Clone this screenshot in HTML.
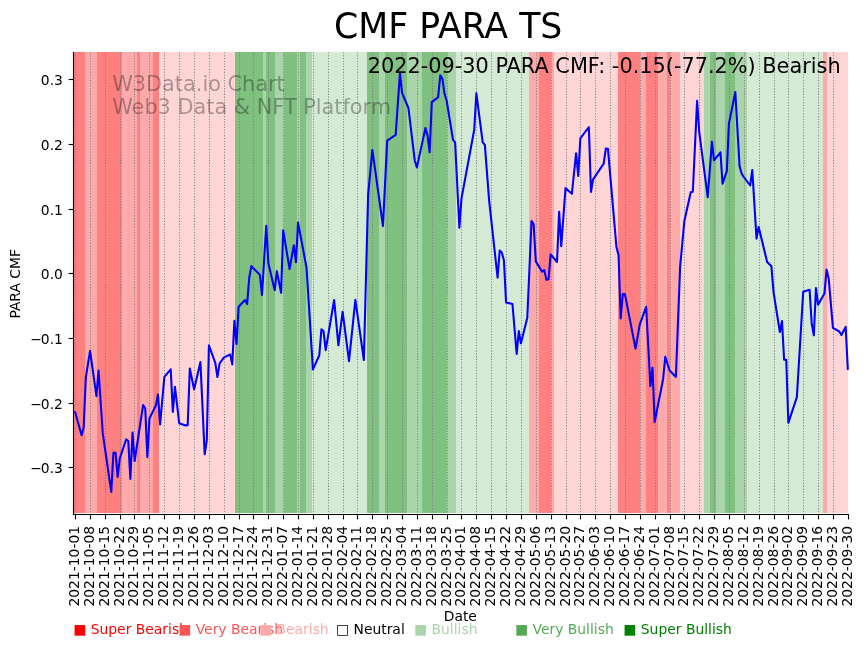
<!DOCTYPE html>
<html lang="en"><head><meta charset="utf-8"><title>CMF PARA TS</title>
<style>html,body{margin:0;padding:0;background:#fff}body{width:864px;height:646px;overflow:hidden}svg{display:block;will-change:transform}text{font-family:'DejaVu Sans','Liberation Sans',sans-serif}</style>
</head><body>
<svg width="864" height="646" viewBox="0 0 864 646">
<rect width="864" height="646" fill="#fff"/>
<g shape-rendering="crispEdges">
<rect x="74" y="52" width="11" height="461" fill="#ff8080"/>
<rect x="85" y="52" width="12" height="461" fill="#ffaaaa"/>
<rect x="97" y="52" width="25" height="461" fill="#ff8080"/>
<rect x="122" y="52" width="15" height="461" fill="#ffaaaa"/>
<rect x="137" y="52" width="3" height="461" fill="#ff8080"/>
<rect x="140" y="52" width="13" height="461" fill="#ffaaaa"/>
<rect x="153" y="52" width="6" height="461" fill="#ff8080"/>
<rect x="159" y="52" width="76" height="461" fill="#ffd5d5"/>
<rect x="235" y="52" width="28" height="461" fill="#80c080"/>
<rect x="263" y="52" width="3" height="461" fill="#aad5aa"/>
<rect x="266" y="52" width="9" height="461" fill="#80c080"/>
<rect x="275" y="52" width="9" height="461" fill="#aad5aa"/>
<rect x="284" y="52" width="13" height="461" fill="#80c080"/>
<rect x="297" y="52" width="3" height="461" fill="#aad5aa"/>
<rect x="300" y="52" width="6" height="461" fill="#80c080"/>
<rect x="306" y="52" width="6" height="461" fill="#aad5aa"/>
<rect x="312" y="52" width="55" height="461" fill="#d5ead5"/>
<rect x="367" y="52" width="12" height="461" fill="#80c080"/>
<rect x="379" y="52" width="6" height="461" fill="#aad5aa"/>
<rect x="385" y="52" width="22" height="461" fill="#80c080"/>
<rect x="407" y="52" width="15" height="461" fill="#aad5aa"/>
<rect x="422" y="52" width="25" height="461" fill="#80c080"/>
<rect x="447" y="52" width="9" height="461" fill="#aad5aa"/>
<rect x="456" y="52" width="73" height="461" fill="#d5ead5"/>
<rect x="529" y="52" width="10" height="461" fill="#ffaaaa"/>
<rect x="539" y="52" width="12" height="461" fill="#ff8080"/>
<rect x="551" y="52" width="3" height="461" fill="#ffaaaa"/>
<rect x="554" y="52" width="64" height="461" fill="#ffd5d5"/>
<rect x="618" y="52" width="22" height="461" fill="#ff8080"/>
<rect x="640" y="52" width="6" height="461" fill="#ffaaaa"/>
<rect x="646" y="52" width="12" height="461" fill="#ff8080"/>
<rect x="658" y="52" width="9" height="461" fill="#ffaaaa"/>
<rect x="667" y="52" width="3" height="461" fill="#ff8080"/>
<rect x="670" y="52" width="10" height="461" fill="#ffaaaa"/>
<rect x="680" y="52" width="24" height="461" fill="#ffd5d5"/>
<rect x="704" y="52" width="6" height="461" fill="#aad5aa"/>
<rect x="710" y="52" width="6" height="461" fill="#80c080"/>
<rect x="716" y="52" width="9" height="461" fill="#aad5aa"/>
<rect x="725" y="52" width="10" height="461" fill="#80c080"/>
<rect x="735" y="52" width="12" height="461" fill="#aad5aa"/>
<rect x="747" y="52" width="76" height="461" fill="#d5ead5"/>
<rect x="823" y="52" width="4" height="461" fill="#ffaaaa"/>
<rect x="827" y="52" width="21" height="461" fill="#ffd5d5"/>
</g>
<g stroke="#808080" stroke-width="1.0417" stroke-dasharray="1.0417 1.7188" fill="none">
<line x1="75.5" y1="514.5" x2="75.5" y2="51.9"/>
<line x1="90.5" y1="514.5" x2="90.5" y2="51.9"/>
<line x1="105.5" y1="514.5" x2="105.5" y2="51.9"/>
<line x1="120.5" y1="514.5" x2="120.5" y2="51.9"/>
<line x1="134.5" y1="514.5" x2="134.5" y2="51.9"/>
<line x1="149.5" y1="514.5" x2="149.5" y2="51.9"/>
<line x1="164.5" y1="514.5" x2="164.5" y2="51.9"/>
<line x1="179.5" y1="514.5" x2="179.5" y2="51.9"/>
<line x1="194.5" y1="514.5" x2="194.5" y2="51.9"/>
<line x1="209.5" y1="514.5" x2="209.5" y2="51.9"/>
<line x1="224.5" y1="514.5" x2="224.5" y2="51.9"/>
<line x1="239.5" y1="514.5" x2="239.5" y2="51.9"/>
<line x1="253.5" y1="514.5" x2="253.5" y2="51.9"/>
<line x1="268.5" y1="514.5" x2="268.5" y2="51.9"/>
<line x1="283.5" y1="514.5" x2="283.5" y2="51.9"/>
<line x1="298.5" y1="514.5" x2="298.5" y2="51.9"/>
<line x1="313.5" y1="514.5" x2="313.5" y2="51.9"/>
<line x1="328.5" y1="514.5" x2="328.5" y2="51.9"/>
<line x1="343.5" y1="514.5" x2="343.5" y2="51.9"/>
<line x1="357.5" y1="514.5" x2="357.5" y2="51.9"/>
<line x1="372.5" y1="514.5" x2="372.5" y2="51.9"/>
<line x1="387.5" y1="514.5" x2="387.5" y2="51.9"/>
<line x1="402.5" y1="514.5" x2="402.5" y2="51.9"/>
<line x1="417.5" y1="514.5" x2="417.5" y2="51.9"/>
<line x1="432.5" y1="514.5" x2="432.5" y2="51.9"/>
<line x1="447.5" y1="514.5" x2="447.5" y2="51.9"/>
<line x1="461.5" y1="514.5" x2="461.5" y2="51.9"/>
<line x1="476.5" y1="514.5" x2="476.5" y2="51.9"/>
<line x1="491.5" y1="514.5" x2="491.5" y2="51.9"/>
<line x1="506.5" y1="514.5" x2="506.5" y2="51.9"/>
<line x1="521.5" y1="514.5" x2="521.5" y2="51.9"/>
<line x1="536.5" y1="514.5" x2="536.5" y2="51.9"/>
<line x1="551.5" y1="514.5" x2="551.5" y2="51.9"/>
<line x1="566.5" y1="514.5" x2="566.5" y2="51.9"/>
<line x1="580.5" y1="514.5" x2="580.5" y2="51.9"/>
<line x1="595.5" y1="514.5" x2="595.5" y2="51.9"/>
<line x1="610.5" y1="514.5" x2="610.5" y2="51.9"/>
<line x1="625.5" y1="514.5" x2="625.5" y2="51.9"/>
<line x1="640.5" y1="514.5" x2="640.5" y2="51.9"/>
<line x1="655.5" y1="514.5" x2="655.5" y2="51.9"/>
<line x1="670.5" y1="514.5" x2="670.5" y2="51.9"/>
<line x1="684.5" y1="514.5" x2="684.5" y2="51.9"/>
<line x1="699.5" y1="514.5" x2="699.5" y2="51.9"/>
<line x1="714.5" y1="514.5" x2="714.5" y2="51.9"/>
<line x1="729.5" y1="514.5" x2="729.5" y2="51.9"/>
<line x1="744.5" y1="514.5" x2="744.5" y2="51.9"/>
<line x1="759.5" y1="514.5" x2="759.5" y2="51.9"/>
<line x1="774.5" y1="514.5" x2="774.5" y2="51.9"/>
<line x1="788.5" y1="514.5" x2="788.5" y2="51.9"/>
<line x1="803.5" y1="514.5" x2="803.5" y2="51.9"/>
<line x1="818.5" y1="514.5" x2="818.5" y2="51.9"/>
<line x1="833.5" y1="514.5" x2="833.5" y2="51.9"/>
</g>
<polyline points="75.20,412.30 81.57,435.20 83.69,427.60 85.81,377.50 90.06,350.90 96.43,396.10 98.55,370.60 102.79,433.40 111.28,492.00 113.41,452.70 115.53,452.70 117.65,476.90 119.77,458.50 126.14,439.30 128.26,441.00 130.38,478.90 132.51,432.60 134.63,461.00 143.12,405.00 145.24,408.40 147.37,457.20 149.49,418.40 155.86,405.50 157.98,394.40 160.10,424.50 164.34,376.80 170.71,369.30 172.84,411.90 174.96,386.90 179.20,423.20 185.57,425.40 187.69,425.20 189.81,368.50 194.06,389.40 200.43,362.10 204.67,454.30 206.80,440.10 208.92,345.40 215.29,362.80 217.41,377.00 219.53,363.60 223.78,357.70 230.14,354.40 232.26,364.40 234.39,320.90 236.51,343.90 238.63,306.80 245.00,300.00 247.12,304.10 249.25,277.80 251.37,266.10 259.86,274.90 261.98,295.00 266.23,225.90 268.35,263.20 274.72,290.30 276.84,271.10 281.08,292.80 283.20,230.40 289.57,269.10 293.82,245.20 295.94,262.20 298.06,222.60 306.55,267.70 312.92,369.40 319.29,355.20 321.41,329.30 323.53,331.00 325.66,350.20 334.14,300.00 338.39,345.30 342.63,311.80 349.00,361.20 355.37,299.80 363.86,360.00 368.11,195.10 372.35,149.80 382.96,226.00 387.21,140.60 395.70,134.80 399.94,73.40 402.06,92.90 408.43,108.00 414.80,160.70 416.92,167.40 425.41,128.10 427.54,135.60 429.66,152.30 431.78,102.10 438.15,97.10 440.27,75.40 442.39,78.70 444.51,93.80 446.64,100.50 453.00,139.80 455.13,142.30 459.37,227.70 461.50,198.40 474.23,129.70 476.35,93.40 482.72,142.30 484.84,144.80 489.09,200.10 497.58,277.60 499.70,250.60 501.82,252.50 503.94,260.60 506.07,302.40 512.44,303.90 516.68,354.00 518.80,331.10 520.93,343.30 527.29,317.70 531.54,221.00 533.66,224.40 535.78,261.40 542.15,271.70 544.27,270.10 546.39,279.80 548.52,279.30 550.64,254.30 557.01,262.00 559.13,211.80 561.25,246.10 565.50,188.10 571.87,193.80 576.11,153.20 578.23,176.00 580.36,138.30 588.85,127.00 590.97,191.90 593.09,179.30 603.70,163.60 605.83,148.50 607.95,148.80 616.44,246.90 618.56,255.20 620.68,318.50 622.81,294.00 624.93,294.10 635.54,348.60 639.79,324.30 646.15,306.80 650.40,386.10 652.52,367.70 654.64,422.00 663.13,379.00 665.26,356.80 669.50,370.20 675.87,377.00 680.11,266.90 684.36,220.90 690.73,192.30 692.85,191.70 697.09,100.80 699.22,131.80 707.71,197.20 711.95,141.90 714.07,160.30 720.44,152.30 722.56,183.70 726.81,171.10 728.93,123.80 735.30,92.00 739.54,166.10 741.67,173.70 743.79,177.00 750.16,185.50 752.28,170.00 756.52,238.60 758.65,226.90 767.14,262.00 771.38,266.20 773.50,291.80 779.87,332.00 781.99,321.10 784.12,359.80 786.24,359.80 788.36,422.80 796.85,397.20 803.22,291.80 809.59,289.80 811.71,323.60 813.83,335.30 815.95,288.10 818.08,304.70 824.44,293.50 826.57,269.60 828.69,278.40 832.93,327.80 839.30,331.50 841.42,335.00 845.67,326.90 847.79,368.80" fill="none" stroke="#0000ff" stroke-width="2.08" stroke-linejoin="round" stroke-linecap="square"/>
<g stroke="#000" stroke-width="1.11" fill="none">
<line x1="73.5" y1="51.9" x2="73.5" y2="515.05"/>
<line x1="72.95" y1="514.5" x2="849.05" y2="514.5"/>
<line x1="75.5" y1="514.5" x2="75.5" y2="519.36"/>
<line x1="90.5" y1="514.5" x2="90.5" y2="519.36"/>
<line x1="105.5" y1="514.5" x2="105.5" y2="519.36"/>
<line x1="120.5" y1="514.5" x2="120.5" y2="519.36"/>
<line x1="134.5" y1="514.5" x2="134.5" y2="519.36"/>
<line x1="149.5" y1="514.5" x2="149.5" y2="519.36"/>
<line x1="164.5" y1="514.5" x2="164.5" y2="519.36"/>
<line x1="179.5" y1="514.5" x2="179.5" y2="519.36"/>
<line x1="194.5" y1="514.5" x2="194.5" y2="519.36"/>
<line x1="209.5" y1="514.5" x2="209.5" y2="519.36"/>
<line x1="224.5" y1="514.5" x2="224.5" y2="519.36"/>
<line x1="239.5" y1="514.5" x2="239.5" y2="519.36"/>
<line x1="253.5" y1="514.5" x2="253.5" y2="519.36"/>
<line x1="268.5" y1="514.5" x2="268.5" y2="519.36"/>
<line x1="283.5" y1="514.5" x2="283.5" y2="519.36"/>
<line x1="298.5" y1="514.5" x2="298.5" y2="519.36"/>
<line x1="313.5" y1="514.5" x2="313.5" y2="519.36"/>
<line x1="328.5" y1="514.5" x2="328.5" y2="519.36"/>
<line x1="343.5" y1="514.5" x2="343.5" y2="519.36"/>
<line x1="357.5" y1="514.5" x2="357.5" y2="519.36"/>
<line x1="372.5" y1="514.5" x2="372.5" y2="519.36"/>
<line x1="387.5" y1="514.5" x2="387.5" y2="519.36"/>
<line x1="402.5" y1="514.5" x2="402.5" y2="519.36"/>
<line x1="417.5" y1="514.5" x2="417.5" y2="519.36"/>
<line x1="432.5" y1="514.5" x2="432.5" y2="519.36"/>
<line x1="447.5" y1="514.5" x2="447.5" y2="519.36"/>
<line x1="461.5" y1="514.5" x2="461.5" y2="519.36"/>
<line x1="476.5" y1="514.5" x2="476.5" y2="519.36"/>
<line x1="491.5" y1="514.5" x2="491.5" y2="519.36"/>
<line x1="506.5" y1="514.5" x2="506.5" y2="519.36"/>
<line x1="521.5" y1="514.5" x2="521.5" y2="519.36"/>
<line x1="536.5" y1="514.5" x2="536.5" y2="519.36"/>
<line x1="551.5" y1="514.5" x2="551.5" y2="519.36"/>
<line x1="566.5" y1="514.5" x2="566.5" y2="519.36"/>
<line x1="580.5" y1="514.5" x2="580.5" y2="519.36"/>
<line x1="595.5" y1="514.5" x2="595.5" y2="519.36"/>
<line x1="610.5" y1="514.5" x2="610.5" y2="519.36"/>
<line x1="625.5" y1="514.5" x2="625.5" y2="519.36"/>
<line x1="640.5" y1="514.5" x2="640.5" y2="519.36"/>
<line x1="655.5" y1="514.5" x2="655.5" y2="519.36"/>
<line x1="670.5" y1="514.5" x2="670.5" y2="519.36"/>
<line x1="684.5" y1="514.5" x2="684.5" y2="519.36"/>
<line x1="699.5" y1="514.5" x2="699.5" y2="519.36"/>
<line x1="714.5" y1="514.5" x2="714.5" y2="519.36"/>
<line x1="729.5" y1="514.5" x2="729.5" y2="519.36"/>
<line x1="744.5" y1="514.5" x2="744.5" y2="519.36"/>
<line x1="759.5" y1="514.5" x2="759.5" y2="519.36"/>
<line x1="774.5" y1="514.5" x2="774.5" y2="519.36"/>
<line x1="788.5" y1="514.5" x2="788.5" y2="519.36"/>
<line x1="803.5" y1="514.5" x2="803.5" y2="519.36"/>
<line x1="818.5" y1="514.5" x2="818.5" y2="519.36"/>
<line x1="833.5" y1="514.5" x2="833.5" y2="519.36"/>
<line x1="848.5" y1="514.5" x2="848.5" y2="519.36"/>
<line x1="68.64" y1="79.5" x2="73.5" y2="79.5"/>
<line x1="68.64" y1="144.5" x2="73.5" y2="144.5"/>
<line x1="68.64" y1="209.5" x2="73.5" y2="209.5"/>
<line x1="68.64" y1="273.5" x2="73.5" y2="273.5"/>
<line x1="68.64" y1="338.5" x2="73.5" y2="338.5"/>
<line x1="68.64" y1="403.5" x2="73.5" y2="403.5"/>
<line x1="68.64" y1="467.5" x2="73.5" y2="467.5"/>
</g>
<g font-size="13.89" text-anchor="end" fill="#000">
<text x="62.9" y="84.75">0.3</text>
<text x="62.9" y="149.75">0.2</text>
<text x="62.9" y="214.75">0.1</text>
<text x="62.9" y="278.75">0.0</text>
<text x="62.9" y="343.75">−<tspan dx="-1">0.1</tspan></text>
<text x="62.9" y="408.75">−<tspan dx="-1">0.2</tspan></text>
<text x="62.9" y="472.75">−<tspan dx="-1">0.3</tspan></text>
</g>
<g font-size="13.89" text-anchor="end" fill="#000">
<text transform="translate(78.90,525.9) rotate(-90)">2021-10-01</text>
<text transform="translate(93.90,525.9) rotate(-90)">2021-10-08</text>
<text transform="translate(108.90,525.9) rotate(-90)">2021-10-15</text>
<text transform="translate(123.90,525.9) rotate(-90)">2021-10-22</text>
<text transform="translate(137.90,525.9) rotate(-90)">2021-10-29</text>
<text transform="translate(152.90,525.9) rotate(-90)">2021-11-05</text>
<text transform="translate(167.90,525.9) rotate(-90)">2021-11-12</text>
<text transform="translate(182.90,525.9) rotate(-90)">2021-11-19</text>
<text transform="translate(197.90,525.9) rotate(-90)">2021-11-26</text>
<text transform="translate(212.90,525.9) rotate(-90)">2021-12-03</text>
<text transform="translate(227.90,525.9) rotate(-90)">2021-12-10</text>
<text transform="translate(242.90,525.9) rotate(-90)">2021-12-17</text>
<text transform="translate(256.90,525.9) rotate(-90)">2021-12-24</text>
<text transform="translate(271.90,525.9) rotate(-90)">2021-12-31</text>
<text transform="translate(286.90,525.9) rotate(-90)">2022-01-07</text>
<text transform="translate(301.90,525.9) rotate(-90)">2022-01-14</text>
<text transform="translate(316.90,525.9) rotate(-90)">2022-01-21</text>
<text transform="translate(331.90,525.9) rotate(-90)">2022-01-28</text>
<text transform="translate(346.90,525.9) rotate(-90)">2022-02-04</text>
<text transform="translate(360.90,525.9) rotate(-90)">2022-02-11</text>
<text transform="translate(375.90,525.9) rotate(-90)">2022-02-18</text>
<text transform="translate(390.90,525.9) rotate(-90)">2022-02-25</text>
<text transform="translate(405.90,525.9) rotate(-90)">2022-03-04</text>
<text transform="translate(420.90,525.9) rotate(-90)">2022-03-11</text>
<text transform="translate(435.90,525.9) rotate(-90)">2022-03-18</text>
<text transform="translate(450.90,525.9) rotate(-90)">2022-03-25</text>
<text transform="translate(464.90,525.9) rotate(-90)">2022-04-01</text>
<text transform="translate(479.90,525.9) rotate(-90)">2022-04-08</text>
<text transform="translate(494.90,525.9) rotate(-90)">2022-04-15</text>
<text transform="translate(509.90,525.9) rotate(-90)">2022-04-22</text>
<text transform="translate(524.90,525.9) rotate(-90)">2022-04-29</text>
<text transform="translate(539.90,525.9) rotate(-90)">2022-05-06</text>
<text transform="translate(554.90,525.9) rotate(-90)">2022-05-13</text>
<text transform="translate(569.90,525.9) rotate(-90)">2022-05-20</text>
<text transform="translate(583.90,525.9) rotate(-90)">2022-05-27</text>
<text transform="translate(598.90,525.9) rotate(-90)">2022-06-03</text>
<text transform="translate(613.90,525.9) rotate(-90)">2022-06-10</text>
<text transform="translate(628.90,525.9) rotate(-90)">2022-06-17</text>
<text transform="translate(643.90,525.9) rotate(-90)">2022-06-24</text>
<text transform="translate(658.90,525.9) rotate(-90)">2022-07-01</text>
<text transform="translate(673.90,525.9) rotate(-90)">2022-07-08</text>
<text transform="translate(687.90,525.9) rotate(-90)">2022-07-15</text>
<text transform="translate(702.90,525.9) rotate(-90)">2022-07-22</text>
<text transform="translate(717.90,525.9) rotate(-90)">2022-07-29</text>
<text transform="translate(732.90,525.9) rotate(-90)">2022-08-05</text>
<text transform="translate(747.90,525.9) rotate(-90)">2022-08-12</text>
<text transform="translate(762.90,525.9) rotate(-90)">2022-08-19</text>
<text transform="translate(777.90,525.9) rotate(-90)">2022-08-26</text>
<text transform="translate(791.90,525.9) rotate(-90)">2022-09-02</text>
<text transform="translate(806.90,525.9) rotate(-90)">2022-09-09</text>
<text transform="translate(821.90,525.9) rotate(-90)">2022-09-16</text>
<text transform="translate(836.90,525.9) rotate(-90)">2022-09-23</text>
<text transform="translate(851.90,525.9) rotate(-90)">2022-09-30</text>
</g>
<text font-size="13.89" text-anchor="middle" x="460.3" y="621">Date</text>
<text font-size="13.89" text-anchor="middle" transform="translate(20.2,283.8) rotate(-90)">PARA CMF</text>
<text font-size="34.72" text-anchor="middle" x="448.2" y="37.6">CMF PARA TS</text>
<text font-size="20.83" text-anchor="end" x="840.6" y="72.9">2022-09-30 PARA CMF: -0.15(-77.2%) Bearish</text>
<g font-size="20.83" fill="#000000" fill-opacity="0.32"><text x="112.2" y="90.9">W3Data.io Chart</text><text x="112.2" y="113.5">Web3 Data &amp; NFT Platform</text></g>
<g font-size="13.89">
<text x="73.2" y="634" fill="#ff0000">■ Super Bearish</text>
<text x="178.2" y="634" fill="#ff5555">■ Very Bearish</text>
<text x="259.0" y="634" fill="#ffaaaa">■ Bearish</text>
<text x="336.0" y="634" fill="#000000">□ Neutral</text>
<text x="414.0" y="634" fill="#aad4aa">■ Bullish</text>
<text x="515.0" y="634" fill="#55aa55">■ Very Bullish</text>
<text x="623.3" y="634" fill="#008000">■ Super Bullish</text>
</g>
</svg></body></html>
